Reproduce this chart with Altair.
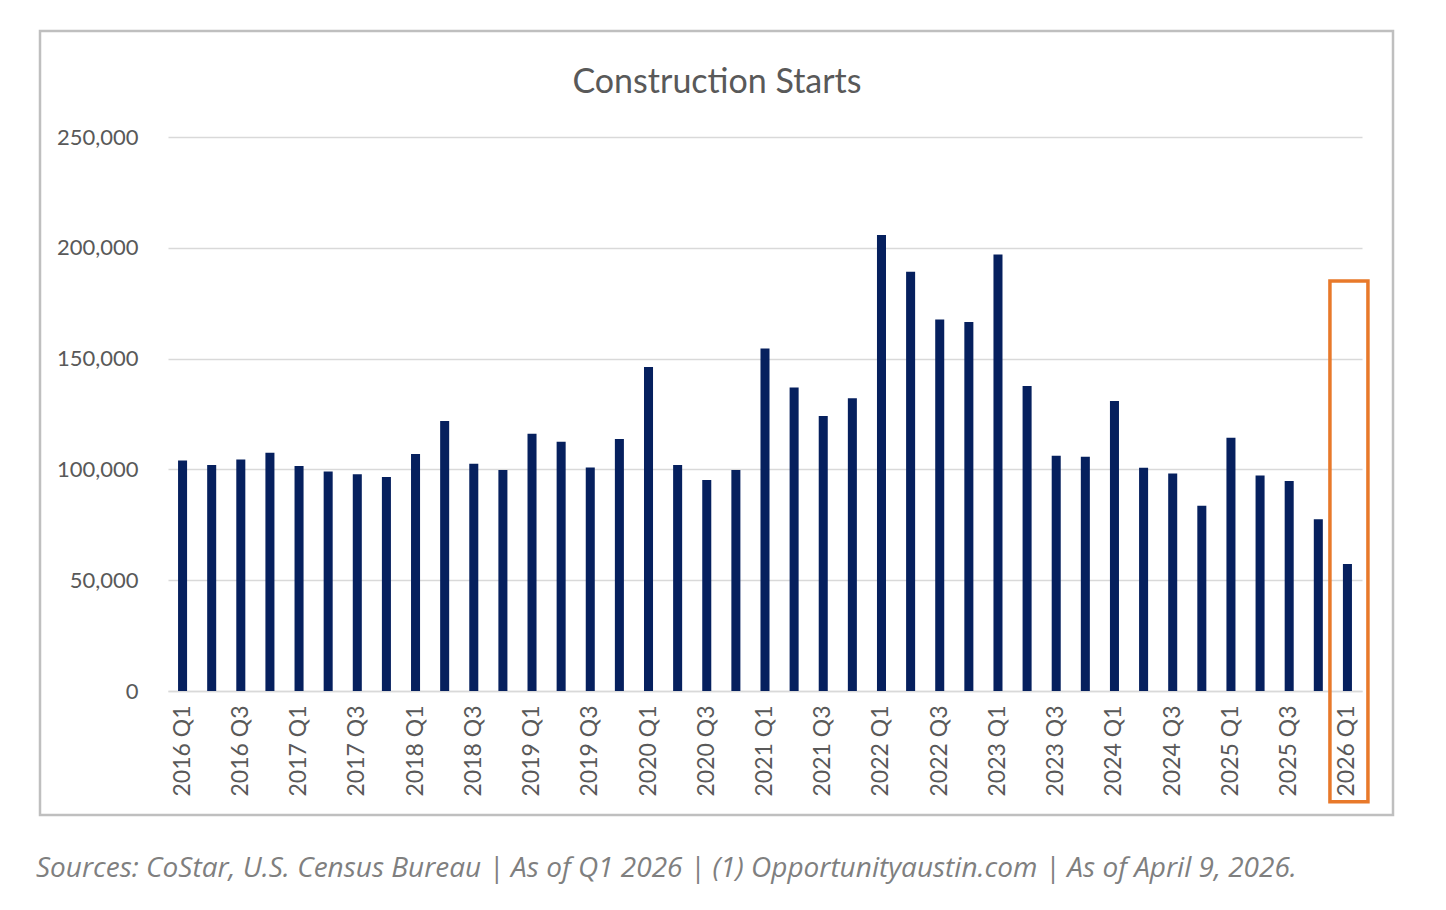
import altair as alt
import pandas as pd

quarters = [f"{y} Q{q}" for y in range(2016, 2026) for q in range(1, 5)] + ["2026 Q1"]
starts = [104000, 102000, 104500, 107500,
          101500, 99000, 97800, 96600,
          107000, 121800, 102600, 99700,
          116100, 112500, 100900, 113700,
          146200, 102000, 95200, 99700,
          154600, 137000, 124100, 132100,
          205800, 189200, 167700, 166500,
          197000, 137600, 106200, 105700,
          130900, 100800, 98200, 83600,
          114300, 97200, 94800, 77500,
          57300]
y_ticks = [0, 50000, 100000, 150000, 200000, 250000]
highlight_quarter = ["2026 Q1"]
highlight_top = [185000]
highlight_bottom = [-50000]
title_text = "Construction Starts"
caption_text = "Sources: CoStar, U.S. Census Bureau | As of Q1 2026 | (1) Opportunityaustin.com | As of April 9, 2026."

df = pd.DataFrame({"quarter": quarters, "starts": starts})
hl = pd.DataFrame({"quarter": highlight_quarter, "top": highlight_top, "bottom": highlight_bottom})
one = pd.DataFrame({"title": [title_text], "caption": [caption_text]})

FONT = "Lato"
TXT = "#595959"

x_enc = alt.X(
    "quarter:N", sort=quarters, title=None,
    scale=alt.Scale(paddingInner=0.69, paddingOuter=0.345),
    axis=alt.Axis(
        labelAngle=-90, labelFont=FONT, labelFontSize=23, labelColor=TXT,
        labelPadding=14, ticks=False, domainColor="#d9d9d9", domainWidth=1.5,
        grid=False, labelOverlap=False,
        labelExpr="(indexof(datum.label, 'Q1') > 0 || indexof(datum.label, 'Q3') > 0) ? datum.label : ''",
    ),
)

bars = alt.Chart(df).mark_bar(color="#06205e").encode(
    x=x_enc,
    y=alt.Y(
        "starts:Q", title=None,
        scale=alt.Scale(domain=[0, 250000], nice=False),
        axis=alt.Axis(
            values=y_ticks, format=",.0f", labelFont=FONT, labelFontSize=22,
            labelColor=TXT, labelPadding=30, ticks=False, domain=False,
            gridColor="#d9d9d9", gridWidth=1.5,
        ),
    ),
)

box = alt.Chart(hl).mark_bar(
    filled=False, stroke="#e8792a", strokeWidth=3.5, width=38, xOffset=1.5
).encode(
    x=alt.X("quarter:N", sort=quarters),
    y=alt.Y("top:Q"),
    y2="bottom:Q",
)

border = alt.Chart(one).mark_rect(
    fillOpacity=0, stroke="#bfbfbf", strokeWidth=2.5
).encode(
    x=alt.value(-128), x2=alt.value(1225), y=alt.value(-106), y2=alt.value(678)
)

title = alt.Chart(one).mark_text(
    font=FONT, fontSize=34, color=TXT, align="center", baseline="alphabetic"
).encode(text="title:N", x=alt.value(549), y=alt.value(-44))

caption = alt.Chart(one).mark_text(
    font="Open Sans", fontSize=28, fontStyle="italic", color="#7f7f7f",
    align="left", baseline="alphabetic"
).encode(text="caption:N", x=alt.value(-132), y=alt.value(740))

chart = alt.layer(border, bars, box, title, caption).properties(
    width=1194, height=554,
    autosize=alt.AutoSizeParams(type="none"),
    padding={"left": 160, "top": 129, "right": 70, "bottom": 200},
    background="white",
).configure_view(strokeWidth=0)

chart.save("out.html", embed_options={"renderer": "svg", "actions": False})
